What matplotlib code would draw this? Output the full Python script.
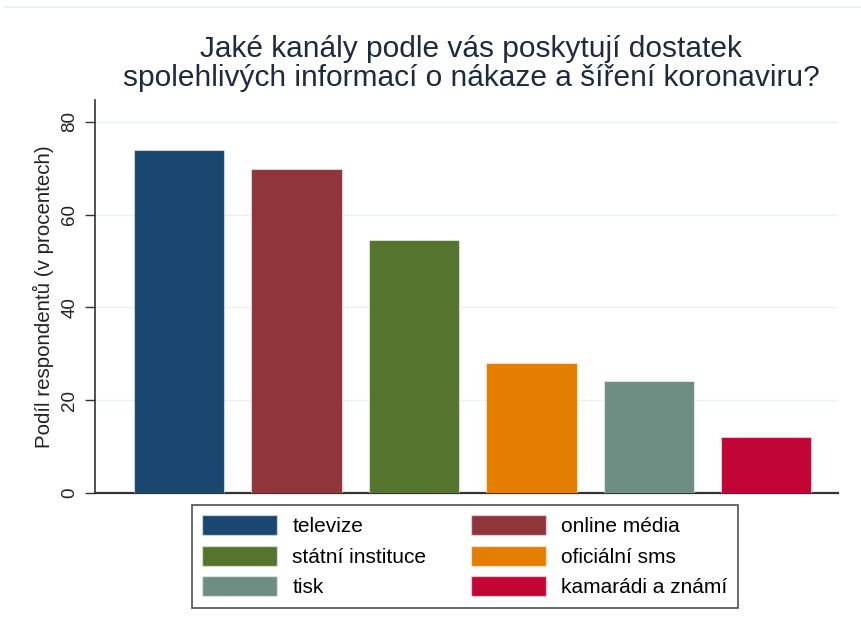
'''Stata-style bar chart: information channels about coronavirus'''
import matplotlib
matplotlib.use("Agg")
import matplotlib.pyplot as plt
from matplotlib.patches import Patch
from matplotlib.lines import Line2D

labels = ["televize", "online média", "státní instituce",
          "oficiální sms", "tisk", "kamarádi a známí"]
values = [74.0, 69.9, 54.6, 28.0, 24.2, 12.1]
colors = ["#1a476f", "#90353b", "#55752f", "#e37e00", "#6e8e84", "#c10534"]
yticks = [0, 20, 40, 60, 80]


def main():
    ''' Main function for module'''
    plt.rcParams['font.family'] = ['Liberation Sans', 'DejaVu Sans']

    fig = plt.figure(figsize=(8.61, 6.33), dpi=100)
    ax = fig.add_axes([0.1103, 0.2212, 0.8627, 0.6208])

    # faint frame line along the top edge
    fig.add_artist(Line2D([0.006, 1.0], [0.989, 0.989], color='#e8eef0',
                          linewidth=1.2, transform=fig.transFigure))

    x = list(range(len(values)))
    ax.bar(x, values, width=0.77, color=colors,
           edgecolor=(1, 1, 1, 0.5), linewidth=0.8, zorder=3)

    ax.set_xlim(-0.718, 5.61)
    ax.set_ylim(0, 84.7)
    ax.set_yticks(yticks)
    ax.set_yticklabels([str(t) for t in yticks], rotation=90,
                       va='center', fontsize=13.5, color='#222222')
    ax.tick_params(axis='y', length=7, width=1, color='#333333', pad=5)
    ax.set_xticks([])
    ax.grid(axis='y', color='#eaf2f3', linewidth=1, zorder=0)

    for side in ['top', 'right']:
        ax.spines[side].set_visible(False)
    ax.spines['left'].set_color('#333333')
    ax.spines['bottom'].set_color('#333333')
    ax.spines['left'].set_linewidth(1.2)
    ax.spines['bottom'].set_linewidth(1.6)

    ax.set_ylabel("Podíl respondentů (v procentech)", fontsize=14.8,
                  color='#222222', labelpad=5)

    fig.text(0.547, 0.900,
             "Jaké kanály podle vás poskytují dostatek\n"
             "spolehlivých informací o nákaze a šíření koronaviru?",
             ha='center', va='center', fontsize=21.5, color='#1e2a40',
             linespacing=1.06)

    # legend fills by column, reorder so rows read like the reference
    order = [0, 2, 4, 1, 3, 5]
    handles = [Patch(facecolor=colors[i], edgecolor=(1, 1, 1, 0.5))
               for i in order]
    leg = fig.legend(handles, [labels[i] for i in order], ncol=2,
                     loc='center', bbox_to_anchor=(0.540, 0.1215),
                     fontsize=15, frameon=True, fancybox=False,
                     handlelength=3.6, handleheight=1.1, handletextpad=0.72,
                     columnspacing=2.15, labelspacing=0.45, borderpad=0.5,
                     borderaxespad=0)
    leg.get_frame().set_edgecolor('#222222')
    leg.get_frame().set_linewidth(1.2)

    fig.savefig("out.png", dpi=100, facecolor='white')


if __name__ == "__main__":
    main()
